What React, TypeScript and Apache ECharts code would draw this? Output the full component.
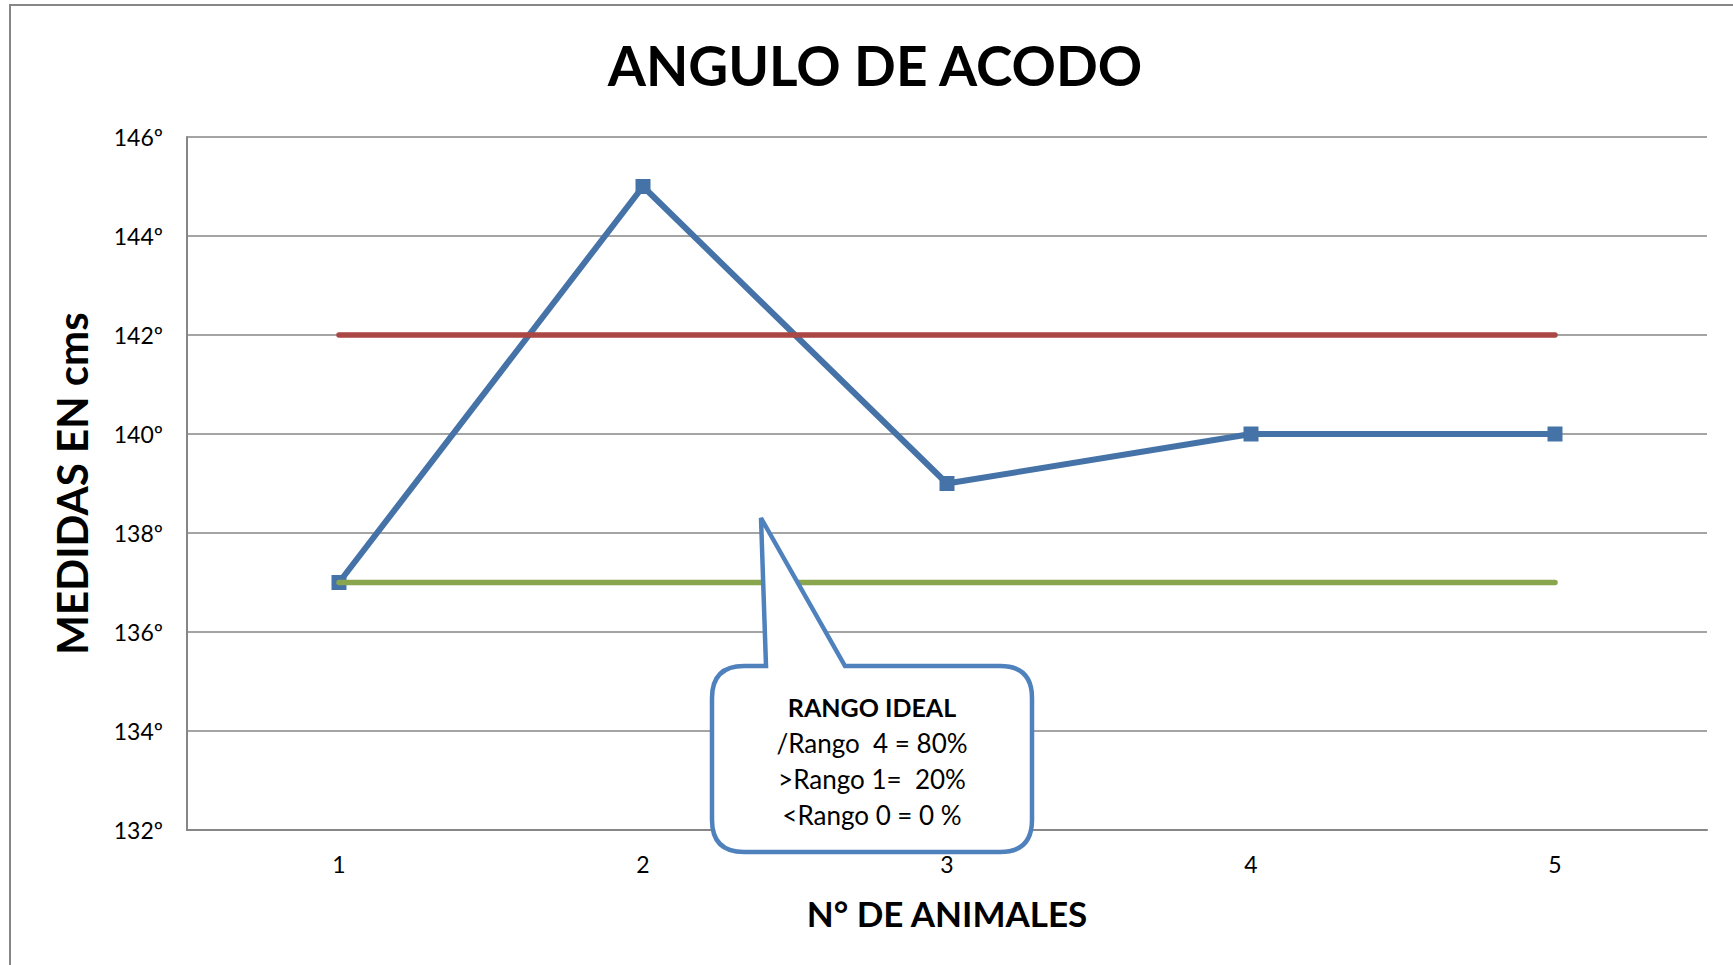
import React, { useEffect, useRef } from "react";
import * as echarts from "echarts";

const categories = ["1", "2", "3", "4", "5"];
const medidas = [137, 145, 139, 140, 140];
const limiteSuperior = [142, 142, 142, 142, 142];
const limiteInferior = [137, 137, 137, 137, 137];
const yMin = 132;
const yMax = 146;
const yInterval = 2;
const calloutLines = ["/Rango  4 = 80%", ">Rango 1=  20%", "<Rango 0 = 0 %"];

const FONT = "Lato, 'Open Sans', sans-serif";

const calloutPath =
  "M 766 666 L 761 518 L 845 666 L 1000 666 Q 1032 666 1032 698 L 1032 820 Q 1032 852 1000 852 L 744 852 Q 712 852 712 820 L 712 698 Q 712 666 744 666 Z";

let registered = false;

export default function App() {
  const ref = useRef<HTMLDivElement>(null);
  useEffect(() => {
    if (!ref.current) return;
    if (!registered) {
      echarts.graphic.registerShape("callout", echarts.graphic.extendPath(calloutPath, {}) as any);
      registered = true;
    }
    const chart = echarts.init(ref.current, null, { renderer: "svg" });
    chart.setOption({
      animation: false,
      backgroundColor: "#ffffff",
      title: {
        text: "ANGULO DE ACODO",
        left: 870,
        top: 32,
        textAlign: "center",
        textStyle: { fontFamily: FONT, fontWeight: "bold", fontSize: 55, color: "#000" },
      },
      grid: { left: 187, right: 26, top: 137, bottom: 135 },
      xAxis: {
        type: "category",
        data: categories,
        boundaryGap: true,
        name: "N° DE ANIMALES",
        nameLocation: "middle",
        nameGap: 65,
        nameTextStyle: { fontFamily: FONT, fontWeight: "bold", fontSize: 35, color: "#000" },
        axisLine: { lineStyle: { color: "#868686", width: 2 } },
        axisTick: { show: false },
        axisLabel: { fontFamily: FONT, fontSize: 23, color: "#000", margin: 22 },
      },
      yAxis: {
        type: "value",
        min: yMin,
        max: yMax,
        interval: yInterval,
        name: "MEDIDAS EN cms",
        nameLocation: "middle",
        nameGap: 94,
        nameRotate: 90,
        nameTextStyle: { fontFamily: FONT, fontWeight: "bold", fontSize: 42, color: "#000" },
        axisLine: { show: true, lineStyle: { color: "#868686", width: 2 } },
        axisTick: { show: false },
        axisLabel: {
          fontFamily: FONT,
          fontSize: 23,
          color: "#000",
          margin: 24,
          formatter: (v: number) => `${v}º`,
        },
        splitLine: { lineStyle: { color: "#868686", width: 1.5 } },
      },
      series: [
        {
          type: "line",
          data: medidas,
          symbol: "rect",
          symbolSize: 15,
          itemStyle: { color: "#4572A7" },
          lineStyle: { color: "#4572A7", width: 6, cap: "round", join: "round" },
          z: 2,
        },
        {
          type: "line",
          data: limiteSuperior,
          showSymbol: false,
          symbol: "none",
          lineStyle: { color: "#AA4643", width: 5.5, cap: "round" },
          z: 3,
        },
        {
          type: "line",
          data: limiteInferior,
          showSymbol: false,
          symbol: "none",
          lineStyle: { color: "#89A54E", width: 5.5, cap: "round" },
          z: 4,
        },
      ],
      graphic: [
        {
          type: "rect",
          shape: { x: 10, y: 5, width: 1760, height: 1000 },
          style: { fill: "none", stroke: "#868686", lineWidth: 2 },
          z: -10,
          silent: true,
        },
        {
          type: "callout",
          x: 0,
          y: 0,
          style: { fill: "#ffffff", stroke: "#4F81BD", lineWidth: 4.5 },
          z: 100,
        },
        {
          type: "text",
          x: 872,
          y: 707,
          z: 101,
          style: {
            text: "RANGO IDEAL",
            fontFamily: FONT,
            fontWeight: "bold",
            fontSize: 25,
            fill: "#000",
            align: "center",
            verticalAlign: "middle",
          },
        },
        ...calloutLines.map((t, i) => ({
          type: "text",
          x: 872,
          y: 743 + i * 36,
          z: 101,
          style: {
            text: t,
            fontFamily: FONT,
            fontSize: 26,
            fill: "#000",
            align: "center",
            verticalAlign: "middle",
          },
        })),
      ],
    });
    return () => chart.dispose();
  }, []);
  return (
    <div
      ref={ref}
      style={{ position: "fixed", left: 0, top: 0, width: 1733, height: 965, background: "#fff" }}
    />
  );
}
